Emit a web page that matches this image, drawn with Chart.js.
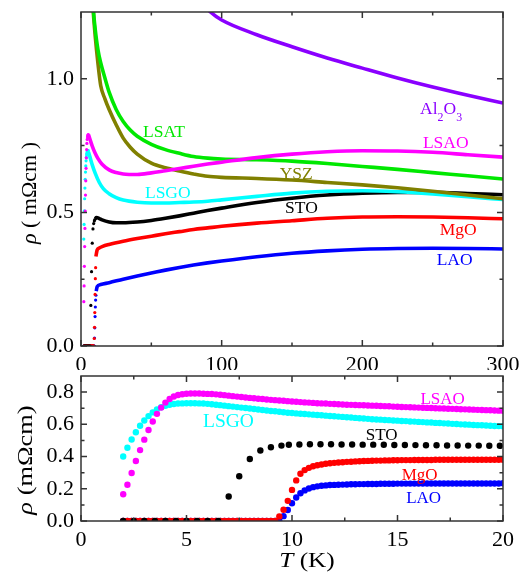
<!DOCTYPE html>
<html><head><meta charset="utf-8">
<script src="https://cdn.jsdelivr.net/npm/chart.js@4.4.1/dist/chart.umd.min.js"></script>
<style>
html,body{margin:0;padding:0;background:#fff;}
body{width:527px;height:574px;position:relative;overflow:hidden;}
canvas{position:absolute;left:0;}
#top{top:0;} #bot{top:370px;}
</style></head><body>
<canvas id="top" width="527" height="370"></canvas>
<canvas id="bot" width="527" height="204"></canvas>
<script>
// ===================== DATA =====================
// Low-temperature data (K), common grid for the dense series
const fineT = [
 2.0,2.2,2.4,2.6,2.8,3.0,3.2,3.4,3.6,3.8,
 4.0,4.2,4.4,4.6,4.8,5.0,5.2,5.4,5.6,5.8,
 6.0,6.2,6.4,6.6,6.8,7.0,7.2,7.4,7.6,7.8,
 8.0,8.2,8.4,8.6,8.8,9.0,9.2,9.4,9.6,9.8,
 10.0,10.2,10.4,10.6,10.8,11.0,11.2,11.4,11.6,11.8,
 12.0,12.2,12.4,12.6,12.8,13.0,13.2,13.4,13.6,13.8,
 14.0,14.2,14.4,14.6,14.8,15.0,15.2,15.4,15.6,15.8,
 16.0,16.2,16.4,16.6,16.8,17.0,17.2,17.4,17.6,17.8,
 18.0,18.2,18.4,18.6,18.8,19.0,19.2,19.4,19.6,19.8,
 20.0];
const lsaoLow = [
 0.166,0.225,0.298,0.372,0.440,0.505,0.565,0.618,0.665,0.704,
 0.735,0.758,0.773,0.782,0.787,0.790,0.791,0.791,0.791,0.790,
 0.789,0.788,0.786,0.784,0.781,0.778,0.775,0.772,0.770,0.767,
 0.764,0.762,0.759,0.757,0.754,0.752,0.750,0.748,0.746,0.744,
 0.742,0.740,0.738,0.736,0.735,0.733,0.731,0.730,0.729,0.727,
 0.726,0.725,0.723,0.722,0.721,0.720,0.719,0.718,0.717,0.716,
 0.715,0.714,0.713,0.712,0.710,0.709,0.708,0.707,0.706,0.705,
 0.704,0.703,0.702,0.701,0.700,0.699,0.698,0.697,0.696,0.695,
 0.694,0.693,0.692,0.691,0.690,0.689,0.688,0.687,0.686,0.685,
 0.684];
const lsgoLow = [
 0.400,0.455,0.506,0.551,0.591,0.624,0.651,0.674,0.693,0.706,
 0.715,0.721,0.726,0.729,0.730,0.731,0.731,0.731,0.730,0.729,
 0.727,0.725,0.722,0.719,0.716,0.713,0.710,0.707,0.704,0.701,
 0.698,0.695,0.692,0.689,0.686,0.683,0.681,0.678,0.675,0.672,
 0.670,0.668,0.666,0.664,0.662,0.660,0.658,0.656,0.654,0.652,
 0.650,0.648,0.646,0.644,0.642,0.640,0.638,0.636,0.634,0.632,
 0.630,0.629,0.627,0.626,0.624,0.623,0.621,0.620,0.618,0.617,
 0.615,0.614,0.612,0.611,0.609,0.608,0.606,0.605,0.603,0.602,
 0.600,0.599,0.598,0.596,0.595,0.594,0.593,0.591,0.590,0.589,
 0.588];
const mgoLow = [
 0,0,0,0,0,0,0,0,0,0,
 0,0,0,0,0,0,0,0,0,0,
 0,0,0,0,0,0,0,0,0,0,
 0,0,0,0,0,0,0,0.028,0.070,0.125,
 0.193,0.252,0.293,0.316,0.330,0.340,0.346,0.351,0.355,0.358,
 0.361,0.363,0.365,0.367,0.368,0.370,0.371,0.372,0.373,0.374,
 0.375,0.375,0.376,0.376,0.377,0.377,0.378,0.378,0.378,0.379,
 0.379,0.379,0.379,0.379,0.380,0.380,0.380,0.380,0.380,0.380,
 0.380,0.380,0.380,0.380,0.380,0.380,0.380,0.380,0.380,0.380,
 0.380];
const laoLow = [
 0,0,0,0,0,0,0,0,0,0,
 0,0,0,0,0,0,0,0,0,0,
 0,0,0,0,0,0,0,0,0,0,
 0,0,0,0,0,0,0,0,0.030,0.068,
 0.110,0.146,0.172,0.190,0.202,0.210,0.215,0.219,0.221,0.223,
 0.224,0.225,0.226,0.227,0.228,0.228,0.229,0.229,0.230,0.230,
 0.230,0.231,0.231,0.231,0.231,0.232,0.232,0.232,0.232,0.232,
 0.232,0.233,0.233,0.233,0.233,0.233,0.233,0.233,0.233,0.233,
 0.233,0.233,0.233,0.233,0.233,0.233,0.233,0.233,0.233,0.233,
 0.234];
const stoLowT = [2,2.5,3,3.5,4,4.5,5,5.5,6,6.5,7,7.5,8,8.5,9,9.5,9.85,10.35,10.85,11.35,11.85,
 12.35,12.85,13.35,13.85,14.35,14.85,15.35,15.85,16.35,16.85,17.35,17.85,18.35,18.85,19.35,19.85];
const stoLow = [0,0,0,0,0,0,0,0,0,0,0.152,0.278,0.385,0.438,0.458,0.468,0.473,0.475,0.476,0.476,0.476,
 0.475,0.475,0.474,0.474,0.473,0.472,0.472,0.471,0.470,0.470,0.469,0.469,0.468,0.468,0.467,0.467];

// Full range curves (0-300 K)
const al2o3T = [85,92,100,125,150,175,200,225,250,275,300];
const al2o3  = [1.29,1.25,1.22,1.165,1.12,1.078,1.04,1.003,0.969,0.938,0.909];
const lsatT  = [8,9,10,12,14,17,20,25,30,35,40,50,60,70,80,90,100,125,150,175,200,225,250,275,300];
const lsat   = [1.32,1.245,1.19,1.11,1.06,1.003,0.95,0.885,0.84,0.808,0.785,0.755,0.735,0.721,0.709,0.703,0.700,0.697,0.692,0.683,0.672,0.661,0.649,0.637,0.625];
const yszT   = [8,9,10,12,14,17,20,25,30,35,40,50,60,70,80,90,100,125,150,175,200,225,250,275,300];
const ysz    = [1.31,1.23,1.165,1.06,0.975,0.925,0.885,0.828,0.778,0.744,0.718,0.684,0.667,0.655,0.644,0.635,0.631,0.627,0.621,0.612,0.603,0.592,0.579,0.565,0.551];
const lsaoT  = [5.4,6.5,8,10,12,15,20,25,30,40,50,60,70,80,90,100,125,150,175,200,225,250,275,300];
const lsao   = [0.790,0.772,0.748,0.722,0.702,0.680,0.659,0.649,0.644,0.642,0.648,0.656,0.664,0.673,0.681,0.688,0.705,0.718,0.727,0.731,0.730,0.725,0.716,0.707];
const lsgoT  = [5.3,6.5,8,10,13,16,20,25,30,40,50,60,70,80,90,100,125,150,175,200,225,250,275,300];
const lsgo   = [0.726,0.705,0.678,0.648,0.612,0.588,0.570,0.555,0.546,0.538,0.535,0.535,0.537,0.539,0.542,0.547,0.560,0.572,0.579,0.581,0.577,0.569,0.559,0.548];
const stoT   = [10,11,13,15,20,25,30,40,50,60,70,80,90,100,125,150,175,200,225,250,275,300];
const sto    = [0.476,0.481,0.477,0.472,0.464,0.461,0.461,0.464,0.470,0.478,0.487,0.497,0.507,0.516,0.537,0.553,0.565,0.572,0.575,0.575,0.571,0.566];
const mgoT   = [10.6,11.5,13,15,20,30,40,50,60,70,80,90,100,125,150,175,200,225,250,275,300];
const mgo    = [0.335,0.360,0.367,0.372,0.380,0.392,0.402,0.411,0.420,0.428,0.436,0.442,0.448,0.460,0.469,0.478,0.483,0.484,0.483,0.480,0.476];
const laoT   = [10.8,11.5,14,20,30,40,50,60,70,80,90,100,125,150,175,200,225,250,275,300];
const lao    = [0.205,0.222,0.230,0.237,0.250,0.262,0.273,0.284,0.294,0.303,0.311,0.318,0.334,0.347,0.356,0.362,0.365,0.366,0.365,0.363];

// Ticks
const topXTicks = [0,100,200,300];
const topXMinor = [50,150,250];
const topYTicks = [0,0.5,1.0];
const topYMinor = [0.25,0.75];
const botXTicks = [0,5,10,15,20];
const botXMinor = [2.5,7.5,12.5,17.5];
const botYTicks = [0,0.2,0.4,0.6,0.8];
const botYMinor = [0.1,0.3,0.5,0.7];

// ===================== STYLE =====================
const FONT = "'Liberation Serif','Times New Roman',serif";
const C = {lsao:'#ff00ff', lsgo:'#00ffff', sto:'#000000', mgo:'#ff0000', lao:'#0000ff',
           lsat:'#00e800', ysz:'#808000', al2o3:'#8a00ff'};

const pts = (xs, ys) => xs.map((x, i) => ({x: x, y: ys[i]}));
const before = (xs, ys, limit) => pts(xs, ys).filter(p => p.x < limit);

function lineDs(xs, ys, color) {
  return {data: pts(xs, ys), borderColor: color, backgroundColor: color, borderWidth: 3.6,
          pointRadius: 0, pointHoverRadius: 0, showLine: true, cubicInterpolationMode: 'monotone',
          fill: false, clip: 0};
}
function dotDs(data, color, r) {
  return {data: data, showLine: false, pointRadius: r, pointHoverRadius: r,
          pointBackgroundColor: color, pointBorderWidth: 0, borderColor: color,
          backgroundColor: color, clip: 0};
}

function scalesFor(o) {
  return {
    x: {
      type: 'linear', min: o.xMin, max: o.xMax,
      grid: {display: false, drawTicks: false}, border: {display: false},
      ticks: {font: {family: FONT, size: 22}, color: '#000', padding: o.xPad, autoSkip: false,
              maxRotation: 0, minRotation: 0, callback: v => String(v)},
      afterBuildTicks: s => { s.ticks = o.xTicks.map(v => ({value: v})); },
      afterFit: s => { s.height = o.xH; s.paddingLeft = 0; s.paddingRight = 0; }
    },
    y: {
      type: 'linear', min: o.yMin, max: o.yMax,
      grid: {display: false, drawTicks: false}, border: {display: false},
      ticks: {font: {family: FONT, size: 22}, color: '#000', padding: 7, autoSkip: false,
              callback: v => Number(v).toFixed(1)},
      afterBuildTicks: s => { s.ticks = o.yTicks.map(v => ({value: v})); },
      afterFit: s => { s.width = 81; s.paddingTop = 0; s.paddingBottom = 0; }
    }
  };
}

function framePlugin(o) {
  return {
    id: 'frameTicks',
    afterDatasetsDraw(chart) {
      const ctx = chart.ctx, a = chart.chartArea, sx = chart.scales.x, sy = chart.scales.y;
      ctx.save();
      ctx.strokeStyle = '#333'; ctx.lineWidth = 1.5;
      ctx.beginPath();
      const mk = (vals, len) => {
        vals.forEach(v => {
          const px = sx.getPixelForValue(v);
          ctx.moveTo(px, a.bottom); ctx.lineTo(px, a.bottom - len);
          ctx.moveTo(px, a.top); ctx.lineTo(px, a.top + len);
        });
      };
      const mky = (vals, len) => {
        vals.forEach(v => {
          const py = sy.getPixelForValue(v);
          ctx.moveTo(a.left, py); ctx.lineTo(a.left + len, py);
          ctx.moveTo(a.right, py); ctx.lineTo(a.right - len, py);
        });
      };
      mk(o.xTicks, 6); mk(o.xMinor, 3.5); mky(o.yTicks, 6); mky(o.yMinor, 3.5);
      ctx.stroke();
      ctx.strokeRect(a.left, a.top, a.right - a.left, a.bottom - a.top);
      ctx.restore();
    }
  };
}

function drawParts(ctx, parts, size, cx, cy, color, stretch) {
  let w = 0;
  const items = parts.map(p => {
    const fs = p.sub ? size * 0.68 : size;
    const f = (p.it ? 'italic ' : '') + fs + 'px ' + FONT;
    ctx.font = f;
    const mw = ctx.measureText(p.t).width;
    w += mw;
    return {p: p, f: f, mw: mw};
  });
  ctx.save();
  ctx.translate(cx, cy);
  ctx.scale(stretch || 1, 1);
  let x = -w / 2;
  const base = size * 0.33;
  ctx.fillStyle = color; ctx.textBaseline = 'alphabetic'; ctx.textAlign = 'left';
  items.forEach(it => {
    ctx.font = it.f;
    ctx.fillText(it.p.t, x, base + (it.p.sub ? size * 0.38 : 0));
    x += it.mw;
  });
  ctx.restore();
}

function labelPlugin(labels, titles) {
  return {
    id: 'labels',
    afterDraw(chart) {
      const ctx = chart.ctx, sx = chart.scales.x, sy = chart.scales.y;
      labels.forEach(l => {
        drawParts(ctx, l.parts, l.size, sx.getPixelForValue(l.x), sy.getPixelForValue(l.y), l.color, 1);
      });
      titles.forEach(t => {
        ctx.save();
        ctx.translate(t.px, t.py);
        ctx.rotate(t.rot || 0);
        drawParts(ctx, t.parts, t.size, 0, 0, '#000', t.stretch);
        ctx.restore();
      });
    }
  };
}

const T = s => [{t: s}];
const topLabels = [
  {parts: T('LSAT'), x: 59, y: 0.805, size: 17.5, color: C.lsat},
  {parts: [{t:'Al'},{t:'2',sub:true},{t:'O'},{t:'3',sub:true}], x: 256, y: 0.89, size: 17.5, color: C.al2o3},
  {parts: T('LSAO'), x: 259.3, y: 0.761, size: 17.5, color: C.lsao},
  {parts: T('YSZ'), x: 153, y: 0.647, size: 17.5, color: C.ysz},
  {parts: T('LSGO'), x: 61.7, y: 0.574, size: 17.5, color: C.lsgo},
  {parts: T('STO'), x: 156.7, y: 0.519, size: 17.5, color: C.sto},
  {parts: T('MgO'), x: 268.2, y: 0.437, size: 17.5, color: C.mgo},
  {parts: T('LAO'), x: 265.6, y: 0.325, size: 17.5, color: C.lao}
];
const botLabels = [
  {parts: T('LSAO'), x: 17.14, y: 0.764, size: 17, color: C.lsao},
  {parts: T('LSGO'), x: 6.99, y: 0.622, size: 19.5, color: C.lsgo},
  {parts: T('STO'), x: 14.25, y: 0.536, size: 17, color: C.sto},
  {parts: T('MgO'), x: 16.05, y: 0.29, size: 17, color: C.mgo},
  {parts: T('LAO'), x: 16.24, y: 0.146, size: 17, color: C.lao}
];
const topTitles = [
  {parts: [{t:'\u03C1', it:true},{t:' ( m\u03A9cm )'}], px: 29, py: 193, rot: -Math.PI/2, size: 22, stretch: 1}
];
const botTitles = [
  {parts: [{t:'\u03C1', it:true},{t:' (m\u03A9cm)'}], px: 25, py: 90, rot: -Math.PI/2, size: 22, stretch: 1.2},
  {parts: [{t:'T', it:true},{t:' (K)'}], px: 307, py: 190, rot: 0, size: 22, stretch: 1.15}
];

Chart.defaults.font.family = FONT;

const topOpts = {xMin: 0, xMax: 300, yMin: 0, yMax: 1.25, xTicks: topXTicks, xMinor: topXMinor,
                 yTicks: topYTicks, yMinor: topYMinor, xH: 24, xPad: 6};
const botOpts = {xMin: 0, xMax: 20, yMin: 0, yMax: 0.9, xTicks: botXTicks, xMinor: botXMinor,
                 yTicks: botYTicks, yMinor: botYMinor, xH: 53, xPad: 6};

new Chart(document.getElementById('top'), {
  type: 'line',
  data: {datasets: [
    lineDs(al2o3T, al2o3, C.al2o3),
    lineDs(lsaoT, lsao, C.lsao),
    lineDs(lsatT, lsat, C.lsat),
    lineDs(yszT, ysz, C.ysz),
    lineDs(lsgoT, lsgo, C.lsgo),
    lineDs(stoT, sto, C.sto),
    lineDs(mgoT, mgo, C.mgo),
    lineDs(laoT, lao, C.lao),
    dotDs(before(fineT, lsaoLow, lsaoT[0]), C.lsao, 1.6),
    dotDs(before(fineT, lsgoLow, lsgoT[0]), C.lsgo, 1.6),
    dotDs(before(stoLowT, stoLow, stoT[0]), C.sto, 1.6),
    dotDs(before(fineT, mgoLow, mgoT[0]), C.mgo, 1.6),
    dotDs(before(fineT, laoLow, laoT[0]), C.lao, 1.6)
  ]},
  options: {
    responsive: false, animation: false, devicePixelRatio: 1,
    layout: {padding: {top: 12, right: 24, bottom: 0, left: 0}},
    plugins: {legend: {display: false}, tooltip: {enabled: false}},
    events: [],
    scales: scalesFor(topOpts)
  },
  plugins: [framePlugin(topOpts), labelPlugin(topLabels, topTitles)]
});

new Chart(document.getElementById('bot'), {
  type: 'line',
  data: {datasets: [
    dotDs(pts(fineT, lsaoLow), C.lsao, 3.2),
    dotDs(pts(fineT, lsgoLow), C.lsgo, 3.2),
    dotDs(pts(stoLowT, stoLow), C.sto, 3.2),
    dotDs(pts(fineT, mgoLow), C.mgo, 3.2),
    dotDs(pts(fineT, laoLow), C.lao, 3.2)
  ]},
  options: {
    responsive: false, animation: false, devicePixelRatio: 1,
    layout: {padding: {top: 6, right: 24, bottom: 0, left: 0}},
    plugins: {legend: {display: false}, tooltip: {enabled: false}},
    events: [],
    scales: scalesFor(botOpts)
  },
  plugins: [framePlugin(botOpts), labelPlugin(botLabels, botTitles)]
});
</script></body></html>
